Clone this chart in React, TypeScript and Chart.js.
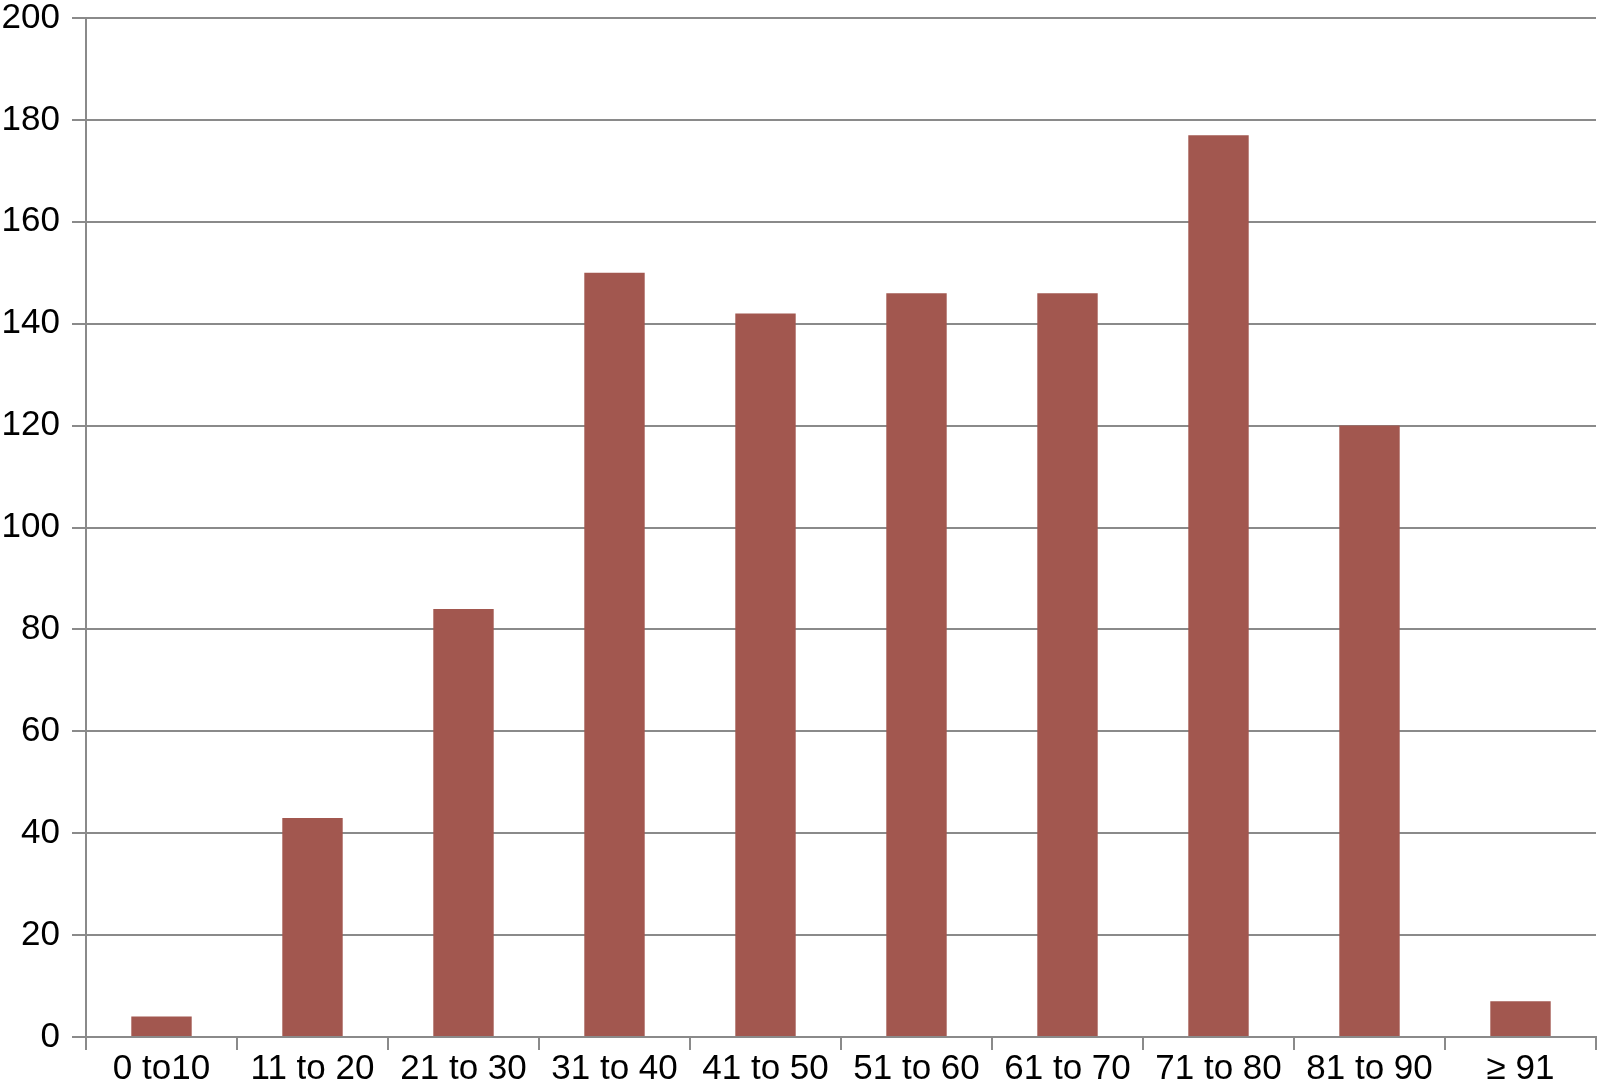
import React, { useEffect, useRef } from "react";
import { Chart, registerables } from "chart.js";

Chart.register(...registerables);

const categories = ["0 to10", "11 to 20", "21 to 30", "31 to 40", "41 to 50", "51 to 60", "61 to 70", "71 to 80", "81 to 90", "\u2265 91"];
const counts = [4, 43, 84, 150, 142, 146, 146, 177, 120, 7];
const yTicks = { min: 0, max: 200, step: 20 };

const GRID = "#8a8a8a";
const BAR = "#a2574f";
const FONT = { family: "'Liberation Sans', Arial, Helvetica, sans-serif", size: 35, lineHeight: 1 };

export default function App() {
  const ref = useRef<HTMLCanvasElement | null>(null);
  useEffect(() => {
    if (!ref.current) return;
    const chart = new Chart(ref.current, {
      type: "bar",
      data: {
        labels: categories,
        datasets: [
          {
            data: counts,
            backgroundColor: BAR,
            borderWidth: 0,
            categoryPercentage: 1,
            barPercentage: 0.4,
          },
        ],
      },
      options: {
        animation: false,
        responsive: false,
        maintainAspectRatio: false,
        layout: { padding: { top: 18, right: 2, left: 0, bottom: 0 } },
        plugins: { legend: { display: false }, tooltip: { enabled: false } },
        scales: {
          x: {
            offset: true,
            grid: {
              offset: true,
              drawOnChartArea: false,
              drawTicks: true,
              tickLength: 13,
              color: GRID,
              lineWidth: 2,
            },
            border: { display: true, color: GRID, width: 2 },
            ticks: { color: "#000", font: FONT, padding: 2, maxRotation: 0, autoSkip: false },
            afterFit: (s: any) => {
              s.height = 51;
              s.paddingLeft = 0;
              s.paddingRight = 0;
            },
          },
          y: {
            min: yTicks.min,
            max: yTicks.max,
            grid: { color: GRID, lineWidth: 2, tickLength: 14, drawTicks: true },
            border: { display: true, color: GRID, width: 2 },
            ticks: { stepSize: yTicks.step, color: "#000", font: FONT, padding: 12 },
            afterFit: (s: any) => {
              s.width = 86;
              s.paddingTop = 0;
              s.paddingBottom = 0;
            },
          },
        },
      },
    });
    return () => chart.destroy();
  }, []);
  return (
    <div style={{ position: "fixed", left: 0, top: 0, width: 1598, height: 1088, background: "#fff" }}>
      <canvas ref={ref} width={1598} height={1088} style={{ width: 1598, height: 1088, display: "block" }} />
    </div>
  );
}
